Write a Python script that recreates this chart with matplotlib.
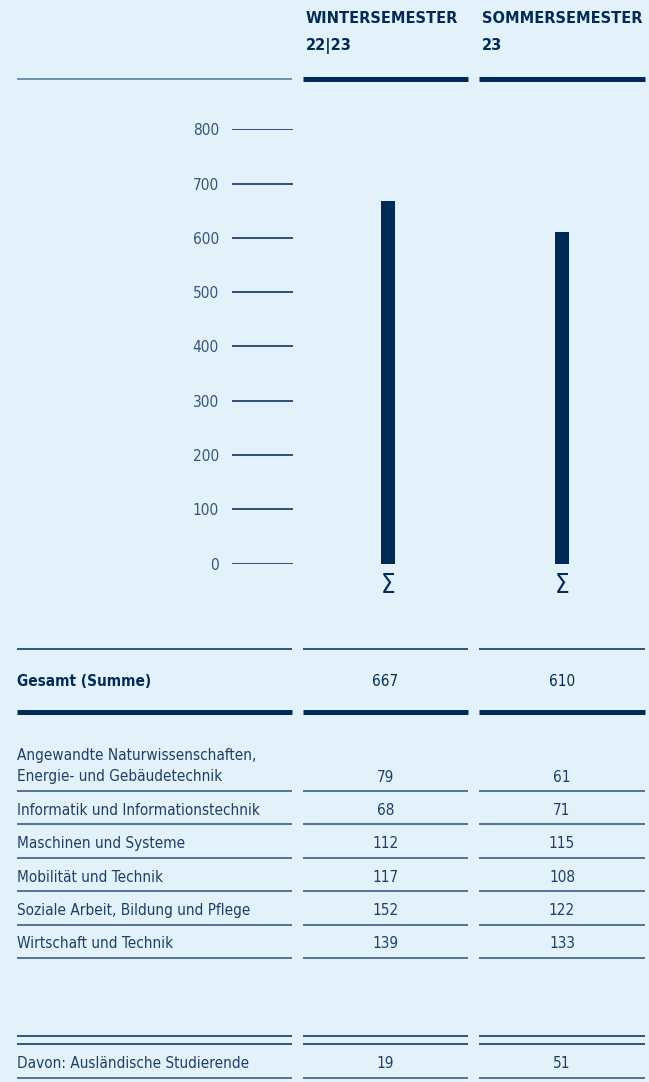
import matplotlib
matplotlib.use('Agg')
import matplotlib.pyplot as plt
from matplotlib import font_manager as fm

# --- DATA ---
semesters = ['WINTERSEMESTER\n22|23', 'SOMMERSEMESTER\n23']
totals = [667, 610]
total_label = 'Gesamt (Summe)'
faculties = [
    'Angewandte Naturwissenschaften,\nEnergie- und Gebäudetechnik',
    'Informatik und Informationstechnik',
    'Maschinen und Systeme',
    'Mobilität und Technik',
    'Soziale Arbeit, Bildung und Pflege',
    'Wirtschaft und Technik',
]
ws_values = [79, 68, 112, 117, 152, 139]
ss_values = [61, 71, 115, 108, 122, 133]
foreign_label = 'Davon: Ausländische Studierende'
foreign_values = [19, 51]
y_ticks = [0, 100, 200, 300, 400, 500, 600, 700, 800]

# --- STYLE ---
W, H = 649, 1082
BG = '#E3F2FA'
NAVY = '#002B57'
TEXT = '#1F3E66'
TICK = '#35557A'

# pick a condensed face if one is installed
fonts = fm.fontManager.ttflist
names = {f.name for f in fonts}
if 'Liberation Sans Narrow' in names:
    FONT = dict(family='Liberation Sans Narrow')
    scale = 1.0
elif any(f.name == 'DejaVu Sans' and f.stretch == 'condensed' for f in fonts):
    FONT = dict(family='DejaVu Sans', stretch='condensed')
    scale = 0.85
else:
    FONT = dict(family='DejaVu Sans')
    scale = 0.75

fs_table = 12.9 * scale
fs_head = 13.8 * scale
fs_tick = 13.0 * scale

fig = plt.figure(figsize=(W / 100, H / 100), dpi=100, facecolor=BG)

# full-figure axes in pixel units for the table layout
tab = fig.add_axes([0, 0, 1, 1])
tab.set_xlim(0, W)
tab.set_ylim(H, 0)
tab.axis('off')

cols = [(17, 292), (303, 468), (479, 645)]
centers = [(a + b) / 2 for a, b in cols[1:]]


def rule(y, lw=1.1, which=(0, 1, 2), color=NAVY):
    for i in which:
        x0, x1 = cols[i]
        tab.plot([x0, x1], [y, y], color=color, lw=lw, solid_capstyle='butt')


# header (two lines each)
for (x0, _), label in zip(cols[1:], semesters):
    for k, part in enumerate(label.split('\n')):
        tab.text(x0 + 3, 11 + k * 27, part, ha='left', va='top', color=NAVY,
                 fontsize=fs_head, fontweight='bold', **FONT)
rule(79, lw=1.2, which=(0,), color='#5E7FA3')
rule(79, lw=3.6, which=(1, 2))

# total row
rule(649)
tab.text(cols[0][0], 682, total_label, ha='left', va='center', color=NAVY,
         fontsize=fs_table, fontweight='bold', **FONT)
for cx, v in zip(centers, totals):
    tab.text(cx, 682, str(v), ha='center', va='center', color=NAVY,
             fontsize=fs_table, **FONT)
rule(712, lw=3.6)

# faculty rows
row_h = 33.4
for i, (lab, a, b) in enumerate(zip(faculties, ws_values, ss_values)):
    line_y = 791 + i * row_h
    ty = line_y - 14
    nlines = lab.count('\n')
    tab.text(cols[0][0], ty - nlines * 11, lab, ha='left', va='center',
             color=TEXT, fontsize=fs_table, linespacing=1.45, **FONT)
    for cx, v in zip(centers, (a, b)):
        tab.text(cx, ty, str(v), ha='center', va='center', color=TEXT,
                 fontsize=fs_table, **FONT)
    rule(line_y, color='#2E5078')

# foreign students
rule(1036)
rule(1044)
tab.text(cols[0][0], 1063, foreign_label, ha='left', va='center', color=TEXT,
         fontsize=fs_table, **FONT)
for cx, v in zip(centers, foreign_values):
    tab.text(cx, 1063, str(v), ha='center', va='center', color=TEXT,
             fontsize=fs_table, **FONT)
rule(1078, color='#2E5078')

# --- BAR CHART ---
y0_px, y800_px = 563.5, 129.3
ax_l, ax_r = 232, 645
ax = fig.add_axes([ax_l / W, 1 - y0_px / H, (ax_r - ax_l) / W, (y0_px - y800_px) / H])
ax.patch.set_visible(False)
for s in ax.spines.values():
    s.set_visible(False)
ax.set_ylim(0, 800)
ax.set_xlim(-0.894, 1.473)
ax.bar([0, 1], totals, width=0.08, color=NAVY)
ax.set_xticks([])
ax.set_yticks(y_ticks)
ax.set_yticklabels([str(t) for t in y_ticks])
ax.tick_params(axis='y', length=0, pad=9.4, labelsize=fs_tick, labelcolor=TICK)
for lbl in ax.get_yticklabels():
    lbl.set_fontfamily(FONT['family'])
    if 'stretch' in FONT:
        lbl.set_fontstretch(FONT['stretch'])
ax.hlines(y_ticks, 0, (293 - ax_l) / (ax_r - ax_l), transform=ax.get_yaxis_transform(),
          color='#1F4470', lw=1.3)

for x in [0, 1]:
    ax.annotate('Σ', xy=(x, 0), xytext=(0, -7), textcoords='offset points',
                ha='center', va='top', color=NAVY, fontsize=22 * scale, **FONT)

plt.savefig('out.png', dpi=100, facecolor=BG)
